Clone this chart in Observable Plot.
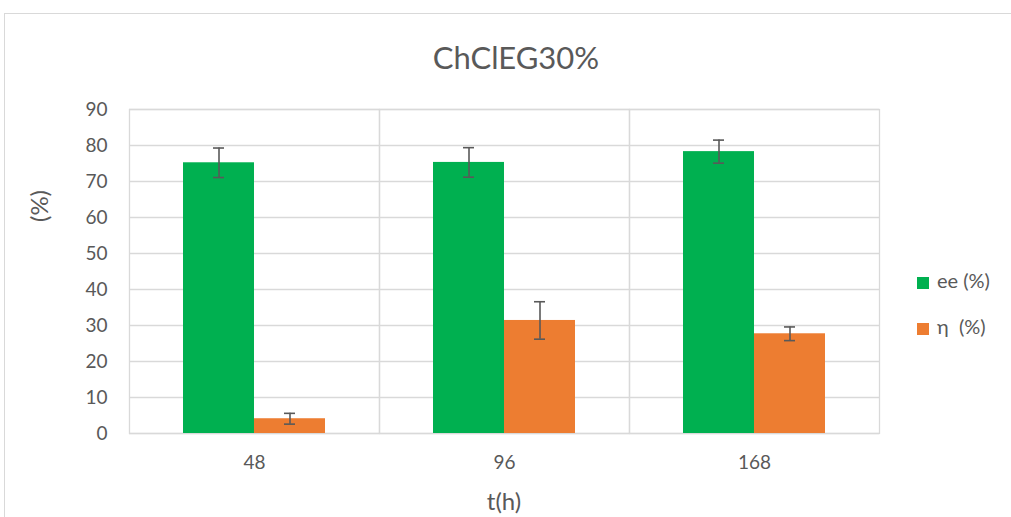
<!DOCTYPE html>
<html><head><meta charset="utf-8">
<script src="https://cdn.jsdelivr.net/npm/d3@7"></script>
<script src="https://cdn.jsdelivr.net/npm/@observablehq/plot@0.6"></script>
<style>
body{margin:0;background:#fff;font-family:Lato,"Open Sans",sans-serif;color:#595959;}
#wrap{position:relative;width:1011px;height:517px;overflow:hidden;}
#border{position:absolute;left:4px;top:13px;width:1100px;height:600px;border:1px solid #d9d9d9;}
.t{position:absolute;white-space:pre;color:#595959;}
#chart{position:absolute;left:0;top:0;}
.sw{display:inline-block;width:12px;height:12px;margin-right:8px;vertical-align:-1px;}
</style></head>
<body>
<div id="wrap">
<div id="border"></div>
<div id="chart"></div>
<div class="t" style="left:0;width:1032px;text-align:center;top:38px;font-size:31px;">ChClEG30%</div>
<div class="t" style="left:0;top:190px;width:80px;text-align:center;font-size:24px;transform:rotate(-90deg);transform-origin:40px 16px;">(%)</div>
<div class="t" style="left:0;width:1008px;text-align:center;top:486px;font-size:24px;">t(h)</div>
<div id="legend"></div>
</div>
<script>
const times = ["48", "96", "168"];
const series = ["ee (%)", "η  (%)"];
const colors = ["#00B050", "#ED7D31"];
const eeValues = [75.2, 75.3, 78.3];
const eeErrors = [4.1, 4.1, 3.2];
const etaValues = [4.1, 31.4, 27.7];
const etaErrors = [1.5, 5.2, 1.9];
const yTicks = [0, 10, 20, 30, 40, 50, 60, 70, 80, 90];

const data = [];
times.forEach((t, i) => {
  data.push({t, s: series[0], v: eeValues[i], e: eeErrors[i]});
  data.push({t, s: series[1], v: etaValues[i], e: etaErrors[i]});
});

const chart = Plot.plot({
  width: 1011,
  height: 517,
  marginTop: 109,
  marginBottom: 84,
  marginLeft: 128,
  marginRight: 131,
  style: {fontFamily: "Lato, 'Open Sans', sans-serif", color: "#595959", background: "transparent"},
  fx: {domain: times, padding: 0, label: null},
  x: {domain: series, paddingInner: 0, paddingOuter: 0.74, axis: null},
  y: {domain: [0, 90], label: null},
  color: {domain: series, range: colors},
  marks: [
    Plot.gridY(yTicks, {stroke: "#d9d9d9", strokeOpacity: 1, strokeWidth: 1.3}),
    Plot.frame({stroke: "#d9d9d9", strokeWidth: 1.3}),
    Plot.axisY(yTicks, {tickSize: 0, tickPadding: 22, fontSize: 19, label: null, fill: "#595959"}),
    Plot.axisFx({anchor: "bottom", tickSize: 0, tickPadding: 22, fontSize: 19, label: null, fill: "#595959"}),
    Plot.barY(data, {fx: "t", x: "s", y: "v", fill: "s"}),
    Plot.ruleX(data, {fx: "t", x: "s", y1: d => d.v - d.e, y2: d => d.v + d.e, stroke: "#595959", strokeWidth: 1.6}),
    Plot.tickY(data, {fx: "t", x: "s", y: d => d.v + d.e, stroke: "#595959", strokeWidth: 1.6, insetLeft: 30, insetRight: 30}),
    Plot.tickY(data, {fx: "t", x: "s", y: d => d.v - d.e, stroke: "#595959", strokeWidth: 1.6, insetLeft: 30, insetRight: 30})
  ]
});
document.getElementById("chart").appendChild(chart);

const legend = document.getElementById("legend");
series.forEach((s, i) => {
  const d = document.createElement("div");
  d.className = "t";
  d.style.left = "917px";
  d.style.top = (268 + i * 46) + "px";
  d.style.fontSize = "20px";
  d.innerHTML = `<span class="sw" style="background:${colors[i]}"></span>${s}`;
  legend.appendChild(d);
});
</script>
</body></html>
